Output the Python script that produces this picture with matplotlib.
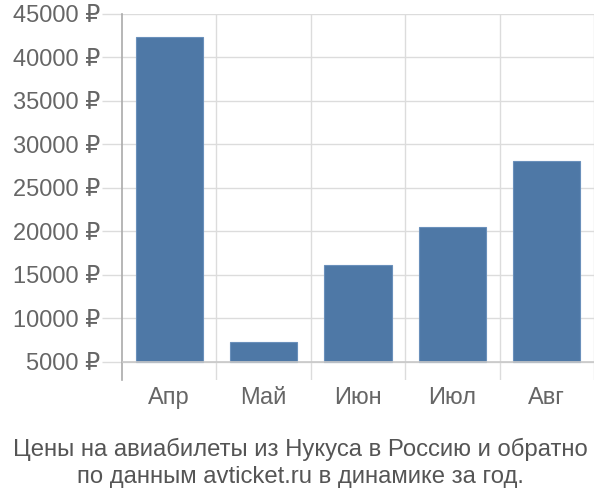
import matplotlib
matplotlib.use("Agg")
import matplotlib.pyplot as plt
import numpy as np

categories = ["Апр", "Май", "Июн", "Июл", "Авг"]
prices = [42300, 7300, 16150, 20540, 28050]
yticks = [5000, 10000, 15000, 20000, 25000, 30000, 35000, 40000, 45000]
title = "Цены на авиабилеты из Нукуса в Россию и обратно\nпо данным avticket.ru в динамике за год."

plt.rcParams['font.family'] = ['Liberation Sans', 'DejaVu Sans']

fig = plt.figure(figsize=(6, 5), dpi=100)
ax = fig.add_axes([0.2033, 0.24, 0.7867, 0.732])

base = 5000
x = np.arange(len(categories))
heights = [p - base for p in prices]
ax.bar(x, heights, bottom=base, width=0.71, color="#4e78a6", edgecolor="#6a90bb", linewidth=0.8, zorder=3)

ax.set_xlim(-0.5, len(categories) - 0.5)
ax.set_ylim(base - 2075, 45000)

grid_c = "#dcdcdc"
ax.set_yticks(yticks)
ax.set_yticklabels([f"{v} ₽" for v in yticks])
ax.tick_params(axis='y', length=14.5, width=1, color=grid_c, labelcolor="#666666", labelsize=17, pad=1)
for v in yticks:
    ax.axhline(v, color=grid_c, linewidth=1, zorder=1)
ax.axhline(base, color="#c8c8c8", linewidth=1.2, zorder=4)

bounds = np.arange(len(categories) + 1) - 0.5
for b in bounds[1:]:
    ax.axvline(b, color=grid_c, linewidth=1, zorder=1)
ax.set_xticks(x)
ax.set_xticklabels(categories)
ax.tick_params(axis='x', length=0, labelcolor="#666666", labelsize=17, pad=5)

for s in ["top", "right", "bottom"]:
    ax.spines[s].set_visible(False)
ax.spines["left"].set_color("#aaaaaa")
ax.spines["left"].set_linewidth(1.2)

fig.text(0.5, 0.024, title, ha="center", va="bottom", fontsize=17.2, color="#555555", linespacing=1.27)

fig.savefig("out.png", dpi=100)
